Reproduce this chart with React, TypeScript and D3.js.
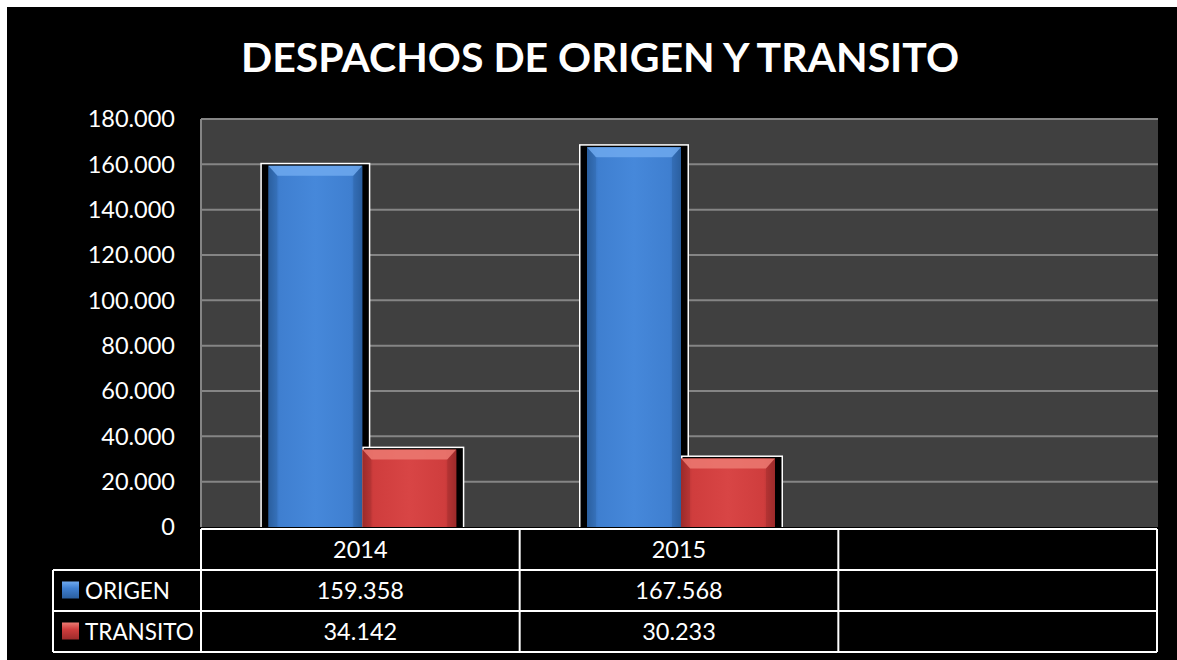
import React from "react";
import * as d3 from "d3";

const title = "DESPACHOS DE ORIGEN Y TRANSITO";
const categories = ["2014", "2015", ""];
const seriesNames = ["ORIGEN", "TRANSITO"];
const origen = [159358, 167568, null];
const transito = [34142, 30233, null];
const yTicks = [0, 20000, 40000, 60000, 80000, 100000, 120000, 140000, 160000, 180000];
const seriesColors = [
  { base: "#3f7fd0", light: "#6fa9ee", dark: "#2b5f9f", mid: "#4688da" },
  { base: "#cf3d3d", light: "#ec7a72", dark: "#9c2b2b", mid: "#d84545" },
];

const W = 1177;
const H = 660;
const plot = { left: 201, right: 1158, top: 119, bottom: 527 };
const table = { left: 53, right: 1157, top: 529, rows: [529, 570, 611, 652] };
const FONT = "Lato, 'Noto Sans', sans-serif";

const fmt = (v: number) => d3.format(",")(v).replace(/,/g, ".");

export default function App() {
  const y = d3.scaleLinear().domain([0, 180000]).range([plot.bottom, plot.top]);
  const x = d3.scaleBand().domain(categories.map((c, i) => String(i))).range([plot.left, table.right]).paddingInner(0).paddingOuter(0);
  const barW = 94;
  const xs = d3.scaleBand().domain(["0", "1"]).range([-92, 96]).paddingInner(0);
  const data = [origen, transito];

  const bars: React.ReactNode[] = [];
  data.forEach((vals, si) => {
    vals.forEach((v, ci) => {
      if (v == null) return;
      const c = (x(String(ci)) as number) + x.bandwidth() / 2;
      const xi = c + (xs(String(si)) as number);
      const yt = y(v);
      const yb = y(0);
      const col = seriesColors[si];
      const leftExt = si === 0 ? 8 : 0;
      bars.push(
        <g key={`b-${si}-${ci}`}>
          <rect x={xi - leftExt} y={yt - 3} width={barW + leftExt + 8} height={yb - yt + 3} fill="#ffffff" />
          <rect x={xi - leftExt + 1.5} y={yt - 1.5} width={barW + leftExt + 5} height={yb - yt + 1.5} fill="#000000" />
          <rect x={xi} y={yt} width={barW} height={yb - yt} fill={`url(#grad${si})`} />
          <polygon
            points={`${xi},${yt} ${xi + barW},${yt} ${xi + barW - 9},${yt + 10} ${xi + 9},${yt + 10}`}
            fill={col.light}
            opacity={0.85}
          />
          <polygon
            points={`${xi},${yt} ${xi + 9},${yt + 10} ${xi + 9},${yb} ${xi},${yb}`}
            fill={col.dark}
            opacity={0.3}
          />
          <polygon
            points={`${xi + barW},${yt} ${xi + barW - 9},${yt + 10} ${xi + barW - 9},${yb} ${xi + barW},${yb}`}
            fill={col.dark}
            opacity={0.4}
          />
        </g>
      );
    });
  });

  const colEdges = categories.map((_, i) => x(String(i)) as number);

  return (
    <svg width={W} height={H} style={{ position: "fixed", left: 0, top: 0, display: "block" }}>
      <defs>
        {seriesColors.map((c, i) => (
          <linearGradient key={i} id={`grad${i}`} x1="0" x2="1" y1="0" y2="0">
            <stop offset="0" stopColor={c.dark} />
            <stop offset="0.12" stopColor={c.base} />
            <stop offset="0.5" stopColor={c.mid} />
            <stop offset="0.88" stopColor={c.base} />
            <stop offset="1" stopColor={c.dark} />
          </linearGradient>
        ))}
        {seriesColors.map((c, i) => (
          <linearGradient key={`l${i}`} id={`leg${i}`} x1="0" x2="0" y1="0" y2="1">
            <stop offset="0" stopColor={c.light} />
            <stop offset="0.4" stopColor={c.base} />
            <stop offset="1" stopColor={c.dark} />
          </linearGradient>
        ))}
      </defs>
      <rect x={0} y={0} width={W} height={H} fill="#ffffff" />
      <rect x={7} y={7} width={W - 7} height={H - 7} fill="#000000" />
      <text x={600} y={72} textAnchor="middle" fill="#ffffff" fontFamily={FONT} fontWeight="bold" fontSize={41}>
        {title}
      </text>

      <rect x={plot.left} y={plot.top} width={plot.right - plot.left} height={plot.bottom - plot.top} fill="#404040" />
      {yTicks.filter((t) => t > 0).map((t) => (
        <line key={`g${t}`} x1={plot.left} x2={plot.right} y1={y(t)} y2={y(t)} stroke="#858585" strokeWidth={2} />
      ))}
      <line x1={plot.left} x2={plot.left} y1={plot.top} y2={plot.bottom} stroke="#858585" strokeWidth={2} />
      {yTicks.map((t) => (
        <text key={`t${t}`} x={175} y={y(t)} dy="0.36em" textAnchor="end" fill="#ffffff" fontFamily={FONT} fontSize={23.5}>
          {fmt(t)}
        </text>
      ))}

      {bars}

      {/* data table */}
      <g stroke="#ffffff" strokeWidth={2}>
        <line x1={plot.left} x2={table.right} y1={table.rows[0]} y2={table.rows[0]} />
        {table.rows.slice(1).map((r) => (
          <line key={`r${r}`} x1={table.left} x2={table.right} y1={r} y2={r} />
        ))}
        <line x1={table.left} x2={table.left} y1={table.rows[1]} y2={table.rows[3]} />
        {colEdges.map((e, i) => (
          <line key={`c${i}`} x1={e} x2={e} y1={table.rows[0]} y2={table.rows[3]} />
        ))}
        <line x1={table.right} x2={table.right} y1={table.rows[0]} y2={table.rows[3]} />
      </g>
      {categories.map((c, i) => (
        <text key={`cat${i}`} x={(x(String(i)) as number) + x.bandwidth() / 2} y={(table.rows[0] + table.rows[1]) / 2} dy="0.36em" textAnchor="middle" fill="#ffffff" fontFamily={FONT} fontSize={23.5}>
          {c}
        </text>
      ))}
      {data.map((vals, si) => {
        const cy = (table.rows[si + 1] + table.rows[si + 2]) / 2;
        return (
          <g key={`row${si}`}>
            <rect x={62} y={cy - 9} width={17} height={17} fill={`url(#leg${si})`} />
            <text x={85} y={cy} dy="0.36em" fill="#ffffff" fontFamily={FONT} fontSize={22.5}>
              {seriesNames[si]}
            </text>
            {vals.map((v, ci) =>
              v == null ? null : (
                <text key={`v${ci}`} x={(x(String(ci)) as number) + x.bandwidth() / 2} y={cy} dy="0.36em" textAnchor="middle" fill="#ffffff" fontFamily={FONT} fontSize={23.5}>
                  {fmt(v)}
                </text>
              )
            )}
          </g>
        );
      })}
    </svg>
  );
}
